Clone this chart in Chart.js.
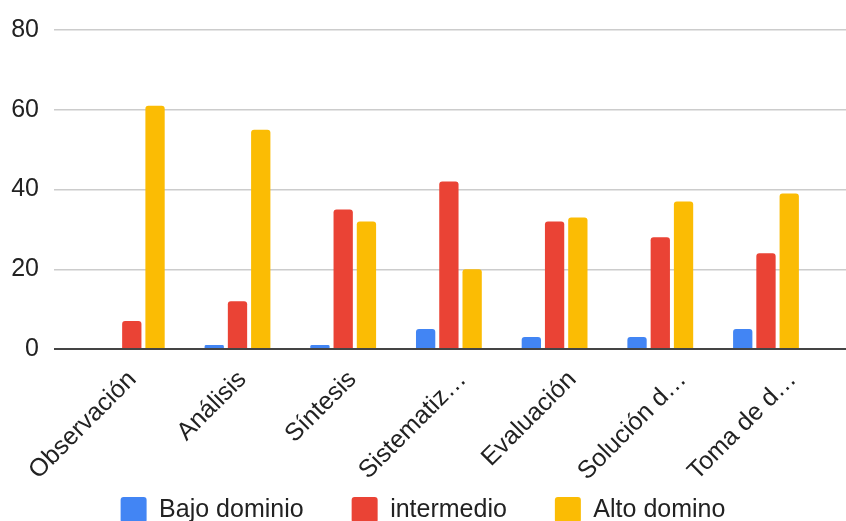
<!DOCTYPE html>
<html>
<head>
<meta charset="utf-8">
<script src="https://cdn.jsdelivr.net/npm/chart.js@4/dist/chart.umd.min.js"></script>
<style>
  body { margin: 0; overflow: hidden; background: #fff; }
</style>
</head>
<body>
<canvas id="myChart" width="846" height="533"></canvas>
<script>
//categories and values
var categorias = ["Observación", "Análisis", "Síntesis", "Sistematiz…", "Evaluación", "Solución d…", "Toma de d…"];
var bajoDominio = [0, 1, 1, 5, 3, 3, 5];
var intermedio = [7, 12, 35, 42, 32, 28, 24];
var altoDominio = [61, 55, 32, 20, 33, 37, 39];
var yTicks = [0, 20, 40, 60, 80];

var textColor = "#222222";
var fontFamily = "'Liberation Sans', Arial, sans-serif";

//turn a plain list into x/y points on the index axis
toPoints = (arr) => {
  var pts = [];
  for (var i = 0; i < arr.length; i++) {
    pts.push({ x: i, y: arr[i] });
  }
  return pts;
}

var series = [
  { label: "Bajo dominio", data: bajoDominio, color: "#4285F4" },
  { label: "intermedio", data: intermedio, color: "#EA4335" },
  { label: "Alto domino", data: altoDominio, color: "#FBBC04" }
];

var dataset = new Array;
for (var s = 0; s < series.length; s++) {
  dataset.push({
    label: series[s].label,
    data: toPoints(series[s].data),
    xAxisID: "x",
    backgroundColor: series[s].color,
    borderWidth: 0,
    borderRadius: { topLeft: 3, topRight: 3 },
    borderSkipped: "start",
    categoryPercentage: 0.66,
    barPercentage: 0.83
  })
}

//rotated category labels run down into the legend band, so don't clip them to the axis box
var noLabelClip = {
  id: "noLabelClip",
  beforeDraw: (chart) => {
    chart.scales.xLabels._computeLabelArea = () => undefined;
  }
};

var indexTicks = (scale) => {
  scale.ticks = categorias.map((c, i) => ({ value: i }));
};

var ctx = document.getElementById("myChart").getContext("2d");
var myChart = new Chart(ctx, {
  type: "bar",
  data: { datasets: dataset },
  plugins: [noLabelClip],
  options: {
    responsive: false,
    animation: false,
    layout: { padding: { top: 27, left: 0, right: 0, bottom: 0 } },
    plugins: {
      tooltip: { enabled: false },
      legend: {
        position: "bottom",
        labels: {
          boxWidth: 26,
          boxHeight: 26,
          useBorderRadius: true,
          borderRadius: 3,
          padding: 48,
          color: textColor,
          font: { family: fontFamily, size: 25 }
        }
      }
    },
    scales: {
      //bar positions
      x: {
        type: "linear",
        display: false,
        min: -0.736,
        max: 6.757,
        offset: false,
        afterBuildTicks: indexTicks
      },
      //category names, spread a little wider than the bar groups
      xLabels: {
        type: "linear",
        position: "bottom",
        min: -0.714,
        max: 6.486,
        offset: false,
        grid: { display: false },
        border: { display: false },
        afterBuildTicks: indexTicks,
        afterFit: (scale) => { scale.height = 100; },
        ticks: {
          autoSkip: false,
          minRotation: 45,
          maxRotation: 45,
          padding: 8,
          color: textColor,
          font: { family: fontFamily, size: 25 },
          callback: (value) => categorias[value]
        }
      },
      y: {
        min: 0,
        max: 80,
        afterBuildTicks: (scale) => {
          scale.ticks = yTicks.map((v) => ({ value: v }));
        },
        afterFit: (scale) => { scale.width = 54; },
        border: { display: false },
        grid: {
          drawTicks: false,
          color: (c) => c.tick.value === 0 ? "#444444" : "#cccccc",
          lineWidth: (c) => c.tick.value === 0 ? 2 : 1.5
        },
        ticks: {
          padding: 15,
          color: textColor,
          font: { family: fontFamily, size: 25 }
        }
      }
    }
  }
});
</script>
</body>
</html>
